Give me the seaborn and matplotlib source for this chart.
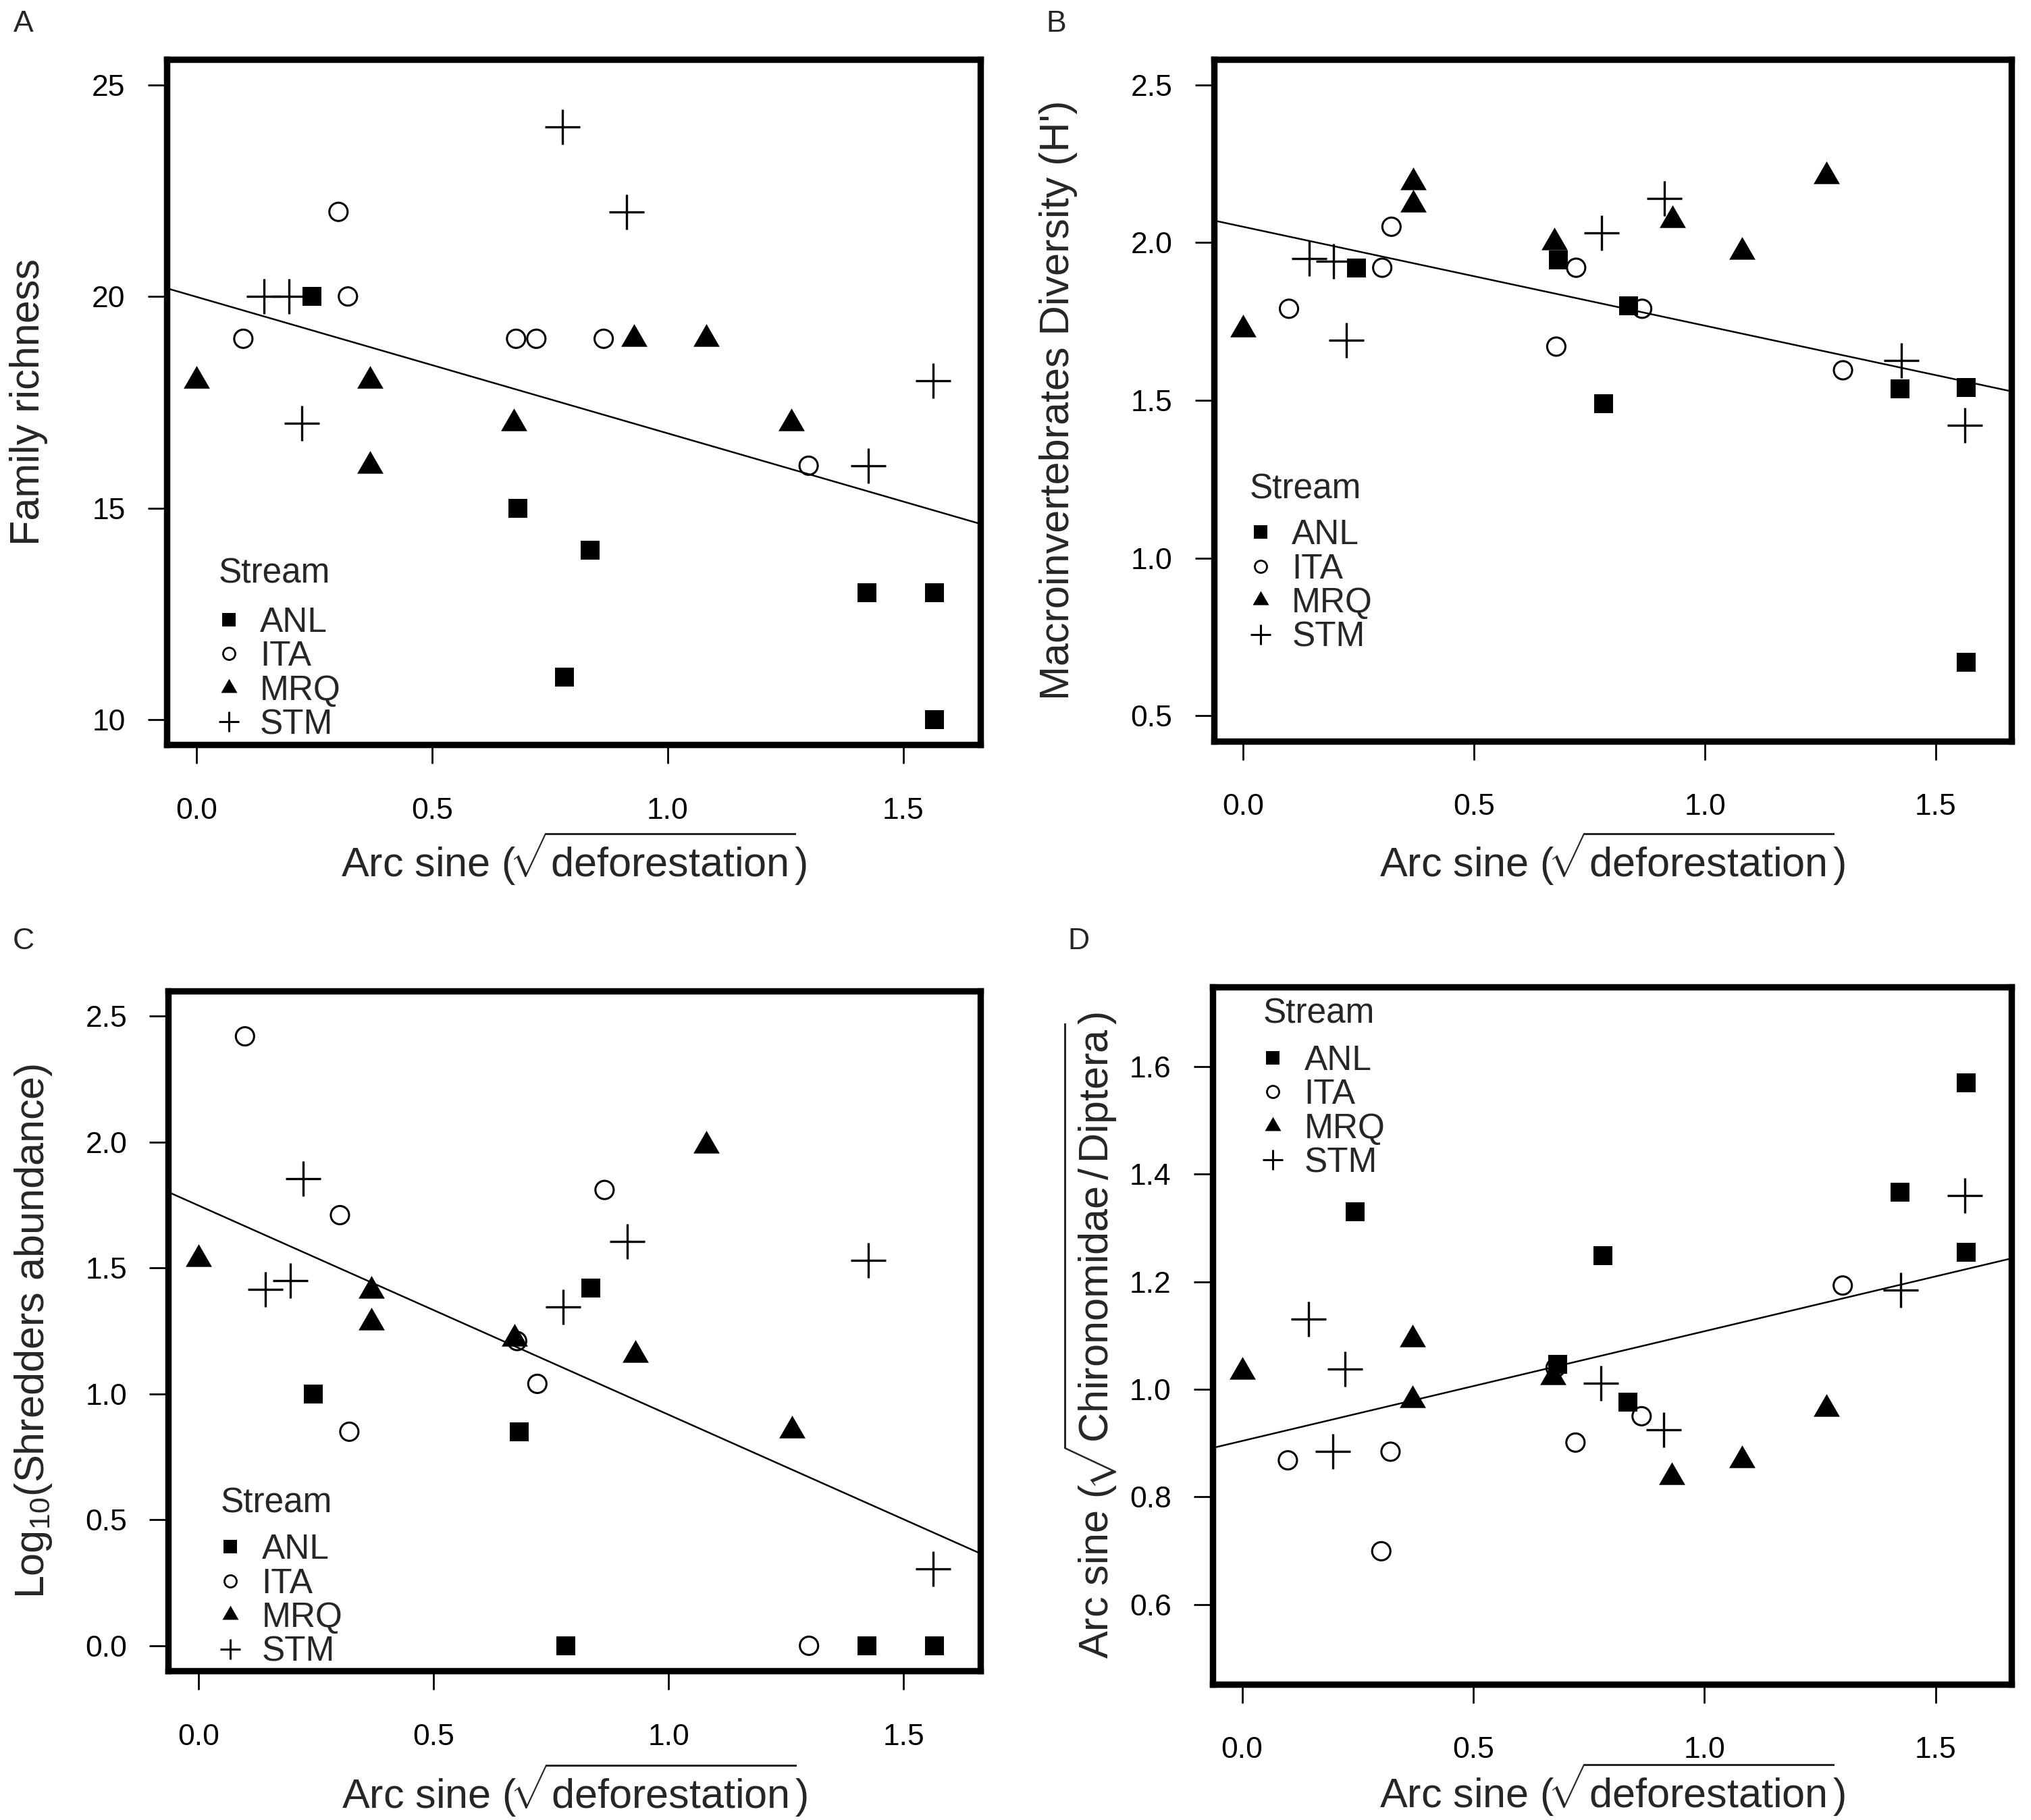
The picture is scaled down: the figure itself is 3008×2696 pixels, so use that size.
import numpy as np
import pandas as pd
import seaborn as sns
import matplotlib.pyplot as plt
from matplotlib.lines import Line2D
from matplotlib.markers import MarkerStyle
from matplotlib.ticker import FormatStrFormatter

sns.set_theme(style="ticks")
plt.rcParams["font.family"] = ["Liberation Sans", "DejaVu Sans"]
plt.rcParams["mathtext.fontset"] = "custom"
plt.rcParams["mathtext.rm"] = "Liberation Sans"
plt.rcParams["mathtext.it"] = "Liberation Sans:italic"
plt.rcParams["mathtext.bf"] = "Liberation Sans:bold"

# x = arc sine(sqrt(deforestation)) for each stream site
streams = ["ANL", "ITA", "MRQ", "STM"]
x_anl = [0.245, 0.682, 0.781, 0.835, 1.423, 1.566, 1.566]
x_ita = [0.099, 0.301, 0.321, 0.678, 0.721, 0.864, 1.299]
x_mrq = [0.0, 0.368, 0.368, 0.673, 0.929, 1.081, 1.263]
x_stm = [0.143, 0.196, 0.223, 0.776, 0.912, 1.425, 1.563]

# A - family richness
rich_anl = [20, 15, 11, 14, 13, 13, 10]
rich_ita = [19, 22, 20, 19, 19, 19, 16]
rich_mrq = [18, 18, 16, 17, 19, 19, 17]
rich_stm = [20, 20, 17, 24, 22, 16, 18]

# B - diversity H'
div_anl = [1.92, 1.945, 1.49, 1.80, 1.535, 1.54, 0.67]
div_ita = [1.79, 1.92, 2.05, 1.67, 1.92, 1.79, 1.595]
div_mrq = [1.725, 2.19, 2.12, 2.00, 2.07, 1.97, 2.21]
div_stm = [1.95, 1.94, 1.69, 2.03, 2.14, 1.625, 1.42]

# C - log10 shredders abundance
shr_anl = [1.00, 0.85, 0.0, 1.42, 0.0, 0.0, 0.0]
shr_ita = [2.42, 1.71, 0.85, 1.21, 1.04, 1.81, 0.0]
shr_mrq = [1.535, 1.41, 1.285, 1.22, 1.155, 1.985, 0.855]
shr_stm = [1.415, 1.45, 1.855, 1.345, 1.605, 1.53, 0.305]

# D - arc sine sqrt(Chironomidae/Diptera)
chi_anl = [1.33, 1.046, 1.248, 0.976, 1.367, 1.570, 1.255]
chi_ita = [0.868, 0.699, 0.884, 1.04, 0.901, 0.950, 1.193]
chi_mrq = [1.033, 1.093, 0.98, 1.022, 0.837, 0.868, 0.963]
chi_stm = [1.13, 0.884, 1.038, 1.011, 0.925, 1.185, 1.36]

df = pd.DataFrame({
    "stream": np.repeat(streams, 7),
    "x": x_anl + x_ita + x_mrq + x_stm,
    "rich": rich_anl + rich_ita + rich_mrq + rich_stm,
    "div": div_anl + div_ita + div_mrq + div_stm,
    "shr": shr_anl + shr_ita + shr_mrq + shr_stm,
    "chi": chi_anl + chi_ita + chi_mrq + chi_stm,
})

tri = [(0, 1), (-0.866, -0.5), (0.866, -0.5)]
mstyle = {
    "ANL": dict(marker="s", s=105, color="black", edgecolor="black", linewidth=0),
    "ITA": dict(marker="o", s=95, color="black", facecolor="none", edgecolor="black", linewidth=1.1),
    "MRQ": dict(marker=MarkerStyle(tri), s=260, color="black", edgecolor="black", linewidth=0),
    "STM": dict(marker="+", s=360, color="black", edgecolor="black", linewidth=1.2),
}

xlab = r"Arc sine ($\!\sqrt{\mathrm{deforestation}}$)"
panels = [
    dict(col="rich", letter="A", ylab="Family richness", ylim=(9.4, 25.6), yt=[10, 15, 20, 25], fmt="%d",
         rect=[0.0820, 0.5907, 0.4008, 0.3766], ylx=-0.169, xly=-0.166,
         title=(0.064, 0.2495), leg=(0.055, 0.104), lpos=(0.0115, 0.987)),
    dict(col="div", letter="B", ylab="Macroinvertebrates Diversity (H')", ylim=(0.42, 2.58),
         yt=[0.5, 1.0, 1.5, 2.0, 2.5], fmt="%.1f",
         rect=[0.5976, 0.5929, 0.3928, 0.3744], ylx=-0.195, xly=-0.173,
         title=(0.045, 0.369), leg=(0.037, 0.227), lpos=(0.520, 0.987)),
    dict(col="shr", letter="C", ylab=r"Log$_{10}$(Shredders abundance)", ylim=(-0.1, 2.6),
         yt=[0.0, 0.5, 1.0, 1.5, 2.0, 2.5], fmt="%.1f",
         rect=[0.0829, 0.0819, 0.3999, 0.3736], ylx=-0.166, xly=-0.175,
         title=(0.064, 0.246), leg=(0.055, 0.103), lpos=(0.0115, 0.4826)),
    dict(col="chi", letter="D", ylab=r"Arc sine ($\!\sqrt{\mathrm{Chironomidae}\,/\,\mathrm{Diptera}}$)",
         ylim=(0.452, 1.748), yt=[0.6, 0.8, 1.0, 1.2, 1.4, 1.6], fmt="%.1f",
         rect=[0.597, 0.0747, 0.3934, 0.3830], ylx=-0.153, xly=-0.151,
         title=(0.063, 0.961), leg=(0.054, 0.821), lpos=(0.531, 0.4826)),
]

fig = plt.figure(figsize=(15.04, 13.48), dpi=200)
xlim = (-0.064, 1.664)

for p in panels:
    ax = fig.add_axes(p["rect"])
    ax.set_xlim(xlim)
    ax.set_ylim(p["ylim"])
    for st in streams:
        sns.scatterplot(data=df[df["stream"] == st], x="x", y=p["col"], ax=ax,
                        legend=False, zorder=3, **mstyle[st])
    sns.regplot(data=df, x="x", y=p["col"], ax=ax, scatter=False, ci=None,
                truncate=False, color="black", line_kws=dict(lw=0.9))
    ax.set_xlim(xlim)
    ax.set_ylim(p["ylim"])

    ax.set_xticks([0.0, 0.5, 1.0, 1.5])
    ax.xaxis.set_major_formatter(FormatStrFormatter("%.1f"))
    ax.set_yticks(p["yt"])
    ax.yaxis.set_major_formatter(FormatStrFormatter(p["fmt"]))
    ax.tick_params(axis="both", direction="out", length=10, width=1.0, color="black",
                   labelsize=16, labelcolor="black")
    ax.tick_params(axis="x", pad=18)
    ax.tick_params(axis="y", pad=12)
    for sp in ax.spines.values():
        sp.set_visible(True)
        sp.set_linewidth(3.4)
        sp.set_color("black")

    ax.set_xlabel(xlab, fontsize=22, va="center")
    ax.xaxis.set_label_coords(0.5, p["xly"])
    ax.set_ylabel(p["ylab"], fontsize=22, va="center")
    ax.yaxis.set_label_coords(p["ylx"], 0.5)

    ax.text(p["title"][0], p["title"][1], "Stream", transform=ax.transAxes,
            fontsize=18.5, ha="left", va="center")
    handles = [
        Line2D([], [], ls="none", marker="s", ms=7, mfc="black", mec="black", mew=0),
        Line2D([], [], ls="none", marker="o", ms=6.5, mfc="none", mec="black", mew=1.0),
        Line2D([], [], ls="none", marker=MarkerStyle(tri), ms=10, mfc="black", mec="black", mew=0),
        Line2D([], [], ls="none", marker="+", ms=11, mec="black", mew=1.1),
    ]
    ax.legend(handles, streams, loc="center left", bbox_to_anchor=p["leg"],
              frameon=False, fontsize=18.5, handlelength=1.0, handletextpad=0.4,
              labelspacing=0.03, borderpad=0, borderaxespad=0)

    fig.text(p["lpos"][0], p["lpos"][1], p["letter"], fontsize=16, ha="center", va="center")

fig.savefig("out.png", dpi=200, facecolor="white")
